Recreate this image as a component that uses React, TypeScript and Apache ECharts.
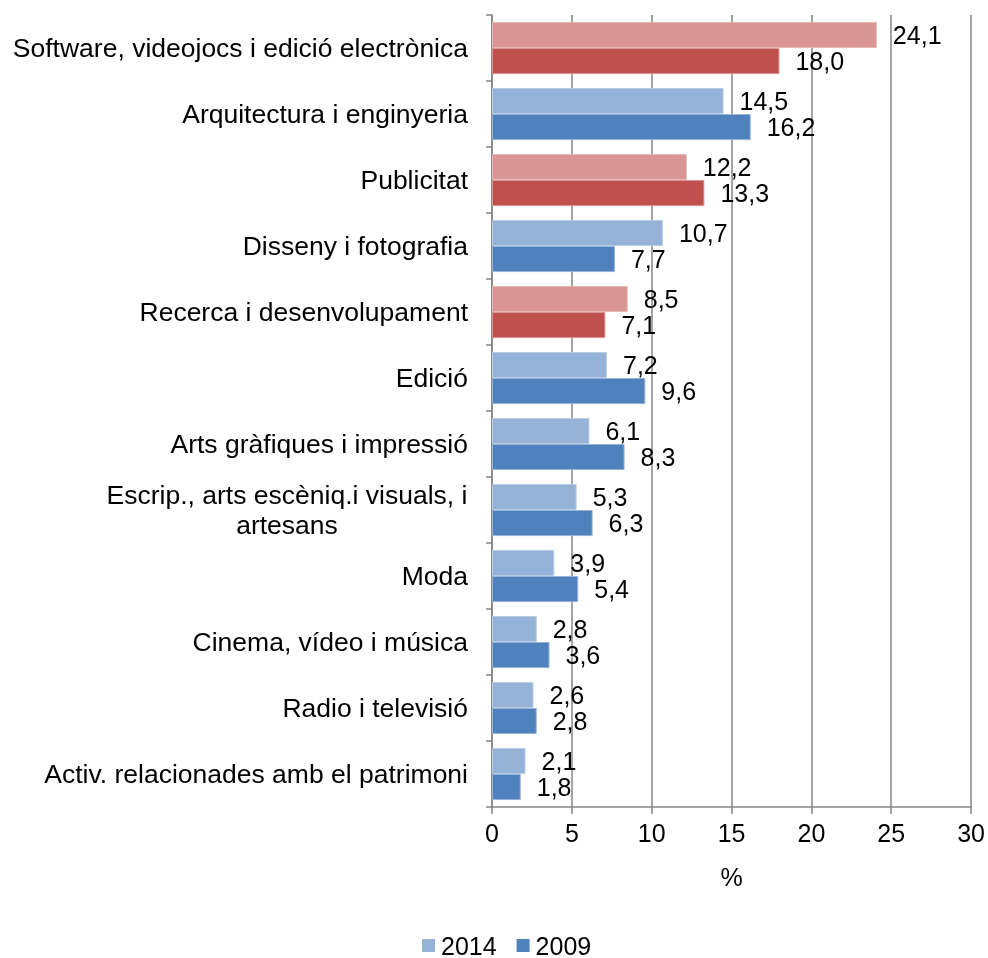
import React, { useEffect, useRef } from "react";
import * as echarts from "echarts";

const categories = [
  "Software, videojocs i edició electrònica",
  "Arquitectura i enginyeria",
  "Publicitat",
  "Disseny i fotografia",
  "Recerca i desenvolupament",
  "Edició",
  "Arts gràfiques i impressió",
  "Escrip., arts escèniq.i visuals, i\nartesans",
  "Moda",
  "Cinema, vídeo i música",
  "Radio i televisió",
  "Activ. relacionades amb el patrimoni",
];
const values2014 = [24.1, 14.5, 12.2, 10.7, 8.5, 7.2, 6.1, 5.3, 3.9, 2.8, 2.6, 2.1];
const values2009 = [18.0, 16.2, 13.3, 7.7, 7.1, 9.6, 8.3, 6.3, 5.4, 3.6, 2.8, 1.8];
const redRows = [0, 2, 4];

const FONT = "Liberation Sans, Arial, sans-serif";
const FS = 25;
const FS_CAT = 26.5;

export default function App() {
  const ref = useRef<HTMLDivElement>(null);
  useEffect(() => {
    if (!ref.current) return;
    const chart = echarts.init(ref.current, undefined, { renderer: "svg" });
    const mk = (vals: number[], blue: string, red: string, border: string, redBorder: string) =>
      vals.map((v, i) => ({
        value: v,
        itemStyle: redRows.includes(i)
          ? { color: red, borderColor: redBorder }
          : { color: blue, borderColor: border },
      }));
    const label = {
      show: true,
      position: "right" as const,
      distance: 16,
      color: "#000",
      fontSize: FS,
      fontFamily: FONT,
      formatter: (p: any) => p.value.toFixed(1).replace(".", ","),
    };
    chart.setOption({
      animation: false,
      textStyle: { fontFamily: FONT },
      grid: { left: 492, right: 15, top: 15, bottom: 151, containLabel: false },
      legend: {
        data: ["2014", "2009"],
        left: 417,
        top: 928,
        padding: 5,
        icon: "rect",
        itemWidth: 13,
        itemHeight: 13,
        itemGap: 20,
        itemStyle: { borderWidth: 0 },
        textStyle: { fontSize: FS, fontFamily: FONT, color: "#000", padding: [0, 0, 0, 1] },
      },
      xAxis: {
        type: "value",
        min: 0,
        max: 30,
        interval: 5,
        name: "%",
        nameLocation: "middle",
        nameGap: 57,
        nameTextStyle: { fontSize: FS, fontFamily: FONT, color: "#000" },
        axisLine: { show: true, lineStyle: { color: "#868686", width: 1.5 } },
        axisTick: { show: true, length: 7, lineStyle: { color: "#868686", width: 1.5 } },
        axisLabel: { fontSize: FS, fontFamily: FONT, color: "#000", margin: 13 },
        splitLine: { show: true, lineStyle: { color: "#868686", width: 1.5 } },
      },
      yAxis: {
        type: "category",
        data: categories,
        inverse: true,
        axisLine: { show: true, lineStyle: { color: "#868686", width: 1.5 } },
        axisTick: { show: true, length: 6, lineStyle: { color: "#868686", width: 1.5 } },
        axisLabel: {
          fontSize: FS_CAT,
          fontFamily: FONT,
          color: "#000",
          margin: 24,
          lineHeight: 30,
          formatter: (v: string) => {
            if (v.includes("\n")) {
              return v
                .split("\n")
                .map((s) => `{c|${s}}`)
                .join("\n");
            }
            return v;
          },
          rich: {
            c: {
              width: 362,
              align: "center",
              fontSize: FS_CAT,
              fontFamily: FONT,
              color: "#000",
              lineHeight: 30,
            },
          },
        },
      },
      series: [
        {
          name: "2014",
          type: "bar",
          barGap: "0%",
          barCategoryGap: "21%",
          itemStyle: { color: "#95B3D7", borderColor: "#B9CDE5", borderWidth: 1 },
          label,
          data: mk(values2014, "#95B3D7", "#D99694", "#B9CDE5", "#E6B9B8"),
        },
        {
          name: "2009",
          type: "bar",
          itemStyle: { color: "#4F81BD", borderColor: "#95B3D7", borderWidth: 1 },
          label,
          data: mk(values2009, "#4F81BD", "#C0504D", "#95B3D7", "#D99694"),
        },
      ],
    });
    return () => chart.dispose();
  }, []);
  return (
    <div
      ref={ref}
      style={{ position: "fixed", left: 0, top: 0, width: 988, height: 958 }}
    />
  );
}
